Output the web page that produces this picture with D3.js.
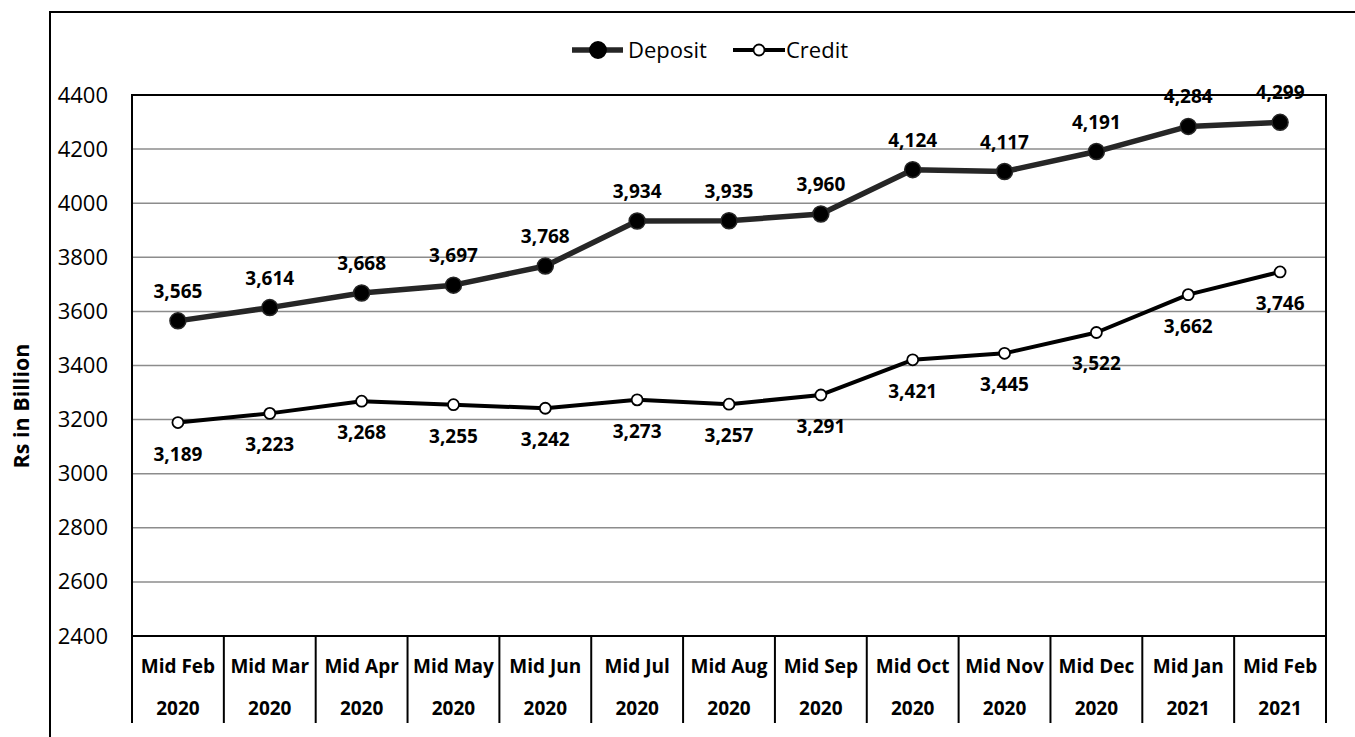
<!DOCTYPE html>
<html>
<head>
<meta charset="utf-8">
<script src="https://cdn.jsdelivr.net/npm/d3@7"></script>
<style>
  body { margin: 0; background: #fff; }
  svg { font-family: "Open Sans", sans-serif; }
</style>
</head>
<body>
<svg id="chart" width="1355" height="737"></svg>
<script>
// data
const months = ['Mid Feb', 'Mid Mar', 'Mid Apr', 'Mid May', 'Mid Jun', 'Mid Jul', 'Mid Aug',
    'Mid Sep', 'Mid Oct', 'Mid Nov', 'Mid Dec', 'Mid Jan', 'Mid Feb'];
const years = ['2020', '2020', '2020', '2020', '2020', '2020', '2020',
    '2020', '2020', '2020', '2020', '2021', '2021'];
const deposit = [3565, 3614, 3668, 3697, 3768, 3934, 3935, 3960, 4124, 4117, 4191, 4284, 4299];
const credit = [3189, 3223, 3268, 3255, 3242, 3273, 3257, 3291, 3421, 3445, 3522, 3662, 3746];
const yTicks = [2400, 2600, 2800, 3000, 3200, 3400, 3600, 3800, 4000, 4200, 4400];

const svg = d3.select('#chart');
const plotLeft = 132, plotRight = 1326, plotTop = 95, plotBottom = 636;

const keys = months.map((m, i) => i);
const x = d3.scaleBand().domain(keys).range([plotLeft, plotRight]);
const y = d3.scaleLinear().domain([2400, 4400]).range([plotBottom, plotTop]);
const fmt = d3.format(',');

// outer chart frame
svg.append('rect')
    .attr('x', 50).attr('y', 12)
    .attr('width', 1400).attr('height', 800)
    .attr('fill', 'none').attr('stroke', '#000').attr('stroke-width', 2);

// gridlines
svg.append('g').selectAll('line')
    .data(yTicks.slice(1, -1))
    .join('line')
    .attr('x1', plotLeft).attr('x2', plotRight)
    .attr('y1', (d) => y(d)).attr('y2', (d) => y(d))
    .attr('stroke', '#8c8c8c').attr('stroke-width', 1.5);

// plot frame
svg.append('rect')
    .attr('x', plotLeft).attr('y', plotTop)
    .attr('width', plotRight - plotLeft).attr('height', plotBottom - plotTop)
    .attr('fill', 'none').attr('stroke', '#000').attr('stroke-width', 2);

// y axis
const yAxis = svg.append('g')
    .attr('transform', `translate(${plotLeft - 24},0)`)
    .call(d3.axisLeft(y).tickValues(yTicks).tickFormat(d3.format('d')).tickSize(0).tickPadding(0));
yAxis.select('.domain').remove();
yAxis.selectAll('text')
    .attr('font-family', '"Open Sans", sans-serif')
    .attr('font-size', 22)
    .attr('fill', '#000');

svg.append('text')
    .attr('transform', 'translate(28.5,406) rotate(-90)')
    .attr('text-anchor', 'middle')
    .attr('font-size', 21.5).attr('font-weight', 'bold')
    .text('Rs in Billion');

// category table
const tableBottom = 723;
svg.append('g').selectAll('line')
    .data(keys.concat([keys.length]))
    .join('line')
    .attr('x1', (d) => plotLeft + d * x.bandwidth())
    .attr('x2', (d) => plotLeft + d * x.bandwidth())
    .attr('y1', plotBottom).attr('y2', tableBottom)
    .attr('stroke', '#000').attr('stroke-width', 2);

svg.append('g').selectAll('text')
    .data(keys)
    .join('text')
    .attr('x', (d) => x(d) + x.bandwidth() / 2)
    .attr('y', 673)
    .attr('text-anchor', 'middle')
    .attr('font-size', 19).attr('font-weight', 'bold')
    .text((d) => months[d]);

svg.append('g').selectAll('text')
    .data(keys)
    .join('text')
    .attr('x', (d) => x(d) + x.bandwidth() / 2)
    .attr('y', 715)
    .attr('text-anchor', 'middle')
    .attr('font-size', 19).attr('font-weight', 'bold')
    .text((d) => years[d]);

const cx = (i) => x(i) + x.bandwidth() / 2;
const line = d3.line().x((d, i) => cx(i)).y((d) => y(d));

// credit series
svg.append('path')
    .datum(credit)
    .attr('d', line)
    .attr('fill', 'none').attr('stroke', '#000').attr('stroke-width', 4)
    .attr('stroke-linejoin', 'round');
svg.append('g').selectAll('circle')
    .data(credit)
    .join('circle')
    .attr('cx', (d, i) => cx(i)).attr('cy', (d) => y(d))
    .attr('r', 5.5)
    .attr('fill', '#fff').attr('stroke', '#000').attr('stroke-width', 1.8);
svg.append('g').selectAll('text')
    .data(credit)
    .join('text')
    .attr('x', (d, i) => cx(i)).attr('y', (d) => y(d) + 38)
    .attr('text-anchor', 'middle')
    .attr('font-size', 19).attr('font-weight', 'bold')
    .text((d) => fmt(d));

// deposit series
svg.append('path')
    .datum(deposit)
    .attr('d', line)
    .attr('fill', 'none').attr('stroke', '#262626').attr('stroke-width', 5.5)
    .attr('stroke-linejoin', 'round');
svg.append('g').selectAll('circle')
    .data(deposit)
    .join('circle')
    .attr('cx', (d, i) => cx(i)).attr('cy', (d) => y(d))
    .attr('r', 8)
    .attr('fill', '#000').attr('stroke', '#262626').attr('stroke-width', 1.5);
svg.append('g').selectAll('text')
    .data(deposit)
    .join('text')
    .attr('x', (d, i) => cx(i)).attr('y', (d) => y(d) - 23)
    .attr('text-anchor', 'middle')
    .attr('font-size', 19).attr('font-weight', 'bold')
    .text((d) => fmt(d));

// legend
const legend = svg.append('g');
const legendItems = [
    {name: 'Deposit', x1: 572, x2: 623, cx: 598, r: 8, fill: '#000', sw: 5.5, stroke: '#262626', tx: 628},
    {name: 'Credit', x1: 733, x2: 785, cx: 759, r: 5.5, fill: '#fff', sw: 4, stroke: '#000', tx: 786}
];
legendItems.forEach((item) => {
    legend.append('line')
        .attr('x1', item.x1).attr('x2', item.x2)
        .attr('y1', 50).attr('y2', 50)
        .attr('stroke', item.stroke).attr('stroke-width', item.sw);
    legend.append('circle')
        .attr('cx', item.cx).attr('cy', 50).attr('r', item.r)
        .attr('fill', item.fill).attr('stroke', '#000').attr('stroke-width', 1.8);
    legend.append('text')
        .attr('x', item.tx).attr('y', 58)
        .attr('font-size', 22)
        .text(item.name);
});
</script>
</body>
</html>
